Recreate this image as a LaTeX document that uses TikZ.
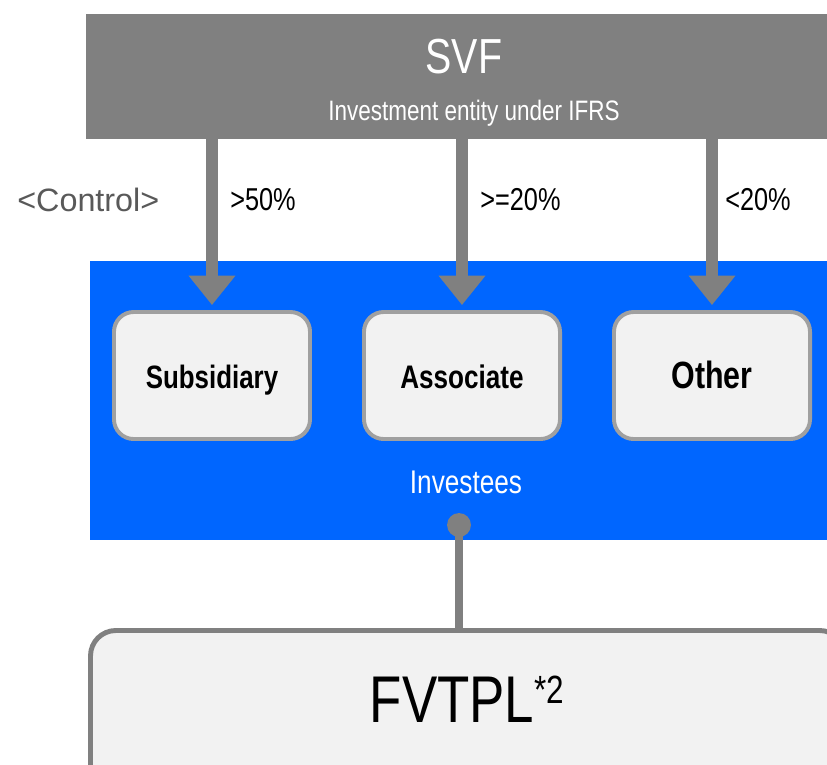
\documentclass[tikz,border=0pt]{standalone}
\usepackage{fontspec}
\setmainfont{Liberation Sans}[FakeStretch=0.8]
\newfontfamily\widefont{Liberation Sans}
\usepackage{tikz}
\usetikzlibrary{arrows.meta,positioning,fit}
\definecolor{Slate}{HTML}{808080}
\definecolor{Frame}{HTML}{A0A0A0}
\definecolor{Paper}{HTML}{F2F2F2}
\definecolor{Azure}{HTML}{0066FF}
\definecolor{Muted}{HTML}{595959}

\begin{document}
\begin{tikzpicture}[x=0.025cm,y=-0.025cm,
  holding/.style={draw=Frame,line width=2.8pt,fill=Paper,rounded corners=14pt,
    minimum width=4.9cm,minimum height=3.175cm,text height=17.8pt,text depth=0pt},
  share/.style={Slate,line width=9pt,-{Triangle[width=32pt,length=21pt]},shorten >=3.5pt},
  pct/.style={anchor=base west,inner sep=0pt,font=\fontsize{22.5}{24}\selectfont}]
  \useasboundingbox (0,0) rectangle (827,764);
  \node[fit={(86,14) (840,139)},inner sep=0pt,fill=Slate] (svf) {};
  \node[white,anchor=base,font=\fontsize{35}{40}\selectfont] (svftitle) at (464,73) {SVF};
  \node[white,anchor=base,font=\fontsize{20}{22}\selectfont] (svfsub) at (474,120) {Investment entity under IFRS};
  \node[fit={(90,261) (840,540)},inner sep=0pt,fill=Azure] (invest) {};
  \foreach \n/\x/\t/\s in {sub/212/Subsidiary/23,asc/462/Associate/23.2,oth/712/Other/27}{
    \node[holding,font=\fontsize{\s}{\s}\selectfont\bfseries] (\n) at (\x,375.5) {\t};
    \draw[share] (svf.south -| \n.north) -- (\n.north);
  }
  \node[Muted,anchor=base west,inner sep=0pt,font=\widefont\fontsize{23}{26}\selectfont] (control) at (17,211) {<Control>};
  \node[pct] (p50) at (230,210) {>50\%};
  \node[pct] (p20) at (480,210) {>=20\%};
  \node[pct] (plow) at (725,210) {<20\%};
  \node[white,anchor=base,font=\fontsize{23.3}{26}\selectfont] (investlbl) at (466,493) {Investees};
  \node[fit={(90.5,630.5) (845,790)},inner sep=0pt,draw=Slate,line width=3.5pt,
    fill=Paper,rounded corners=18pt] (fvtpl) {};
  \coordinate (dot) at (459,525);
  \draw[Slate,line width=5pt] (dot) -- (dot |- fvtpl.north);
  \fill[Slate] (dot) circle (8.5pt);
  \node[anchor=base,font=\fontsize{47}{50}\selectfont] (fvtpltxt) at (467,722)
    {FVTPL\raisebox{13.5pt}{\fontsize{28}{30}\selectfont *2}};
\end{tikzpicture}
\end{document}
